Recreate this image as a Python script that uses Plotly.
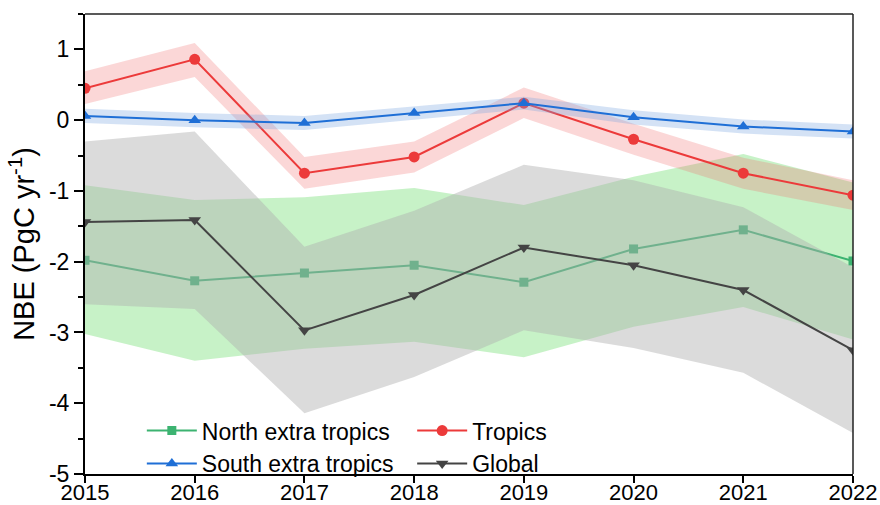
import plotly.graph_objects as go

years = [2015, 2016, 2017, 2018, 2019, 2020, 2021, 2022]

north = [-1.98, -2.27, -2.16, -2.05, -2.29, -1.82, -1.55, -1.99]
north_upper = [-0.92, -1.13, -1.09, -0.96, -1.20, -0.80, -0.48, -0.88]
north_lower = [-3.02, -3.40, -3.23, -3.13, -3.35, -2.92, -2.64, -3.10]

tropics = [0.45, 0.86, -0.75, -0.52, 0.24, -0.27, -0.75, -1.06]
tropics_upper = [0.69, 1.09, -0.52, -0.30, 0.46, -0.05, -0.53, -0.85]
tropics_lower = [0.23, 0.61, -0.97, -0.74, 0.03, -0.49, -0.97, -1.27]

south = [0.06, 0.00, -0.04, 0.10, 0.24, 0.04, -0.09, -0.16]
south_upper = [0.16, 0.10, 0.06, 0.20, 0.33, 0.14, 0.01, -0.06]
south_lower = [-0.04, -0.10, -0.14, 0.00, 0.15, -0.06, -0.19, -0.26]

glob = [-1.44, -1.41, -2.97, -2.47, -1.80, -2.05, -2.40, -3.25]
glob_upper = [-0.30, -0.16, -1.79, -1.28, -0.63, -0.85, -1.23, -2.08]
glob_lower = [-2.60, -2.67, -4.14, -3.63, -2.97, -3.22, -3.57, -4.42]

ytick_vals = [-5, -4, -3, -2, -1, 0, 1]
ytick_text = ["-5", "-4", "-3", "-2", "-1", "0", "1"]
xtick_text = [str(y) for y in years]

FONT = "Liberation Sans, Arial, sans-serif"

fig = go.Figure()


def band(upper, lower, color):
    fig.add_trace(go.Scatter(
        x=years + years[::-1], y=upper + lower[::-1],
        fill="toself", fillcolor=color, mode="lines",
        line=dict(width=0), hoverinfo="skip", showlegend=False))


def series(vals, name, color, symbol, size, legend, rank):
    fig.add_trace(go.Scatter(
        x=years, y=vals, name=name, mode="lines+markers",
        line=dict(color=color, width=2),
        marker=dict(symbol=symbol, size=size, color=color),
        legend=legend, legendrank=rank))


band(north_upper, north_lower, "rgba(144,230,144,0.5)")
series(north, "North extra tropics", "#3cb371", "square", 9, "legend", 1)
band(glob_upper, glob_lower, "rgba(175,175,175,0.45)")
series(glob, "Global", "#444444", "triangle-down", 11, "legend2", 2)
band(tropics_upper, tropics_lower, "rgba(240,110,110,0.28)")
series(tropics, "Tropics", "#ec3a3a", "circle", 11, "legend2", 1)
band(south_upper, south_lower, "rgba(120,165,225,0.32)")
series(south, "South extra tropics", "#1f6fd6", "triangle-up", 11, "legend", 2)

fig.update_layout(
    width=880, height=505,
    margin=dict(l=85, r=27, t=14, b=31),
    plot_bgcolor="white", paper_bgcolor="white",
    font=dict(family=FONT, size=23, color="black"),
    xaxis=dict(range=[2015, 2022], tickvals=years, ticktext=xtick_text,
               ticks="outside", ticklen=7, tickwidth=1.5, tickcolor="black",
               showline=True, linecolor="black", linewidth=2,
               showgrid=False, zeroline=False, automargin=False,
               ticklabelstandoff=-9,
               tickfont=dict(size=22)),
    yaxis=dict(range=[-5, 1.5], tickvals=ytick_vals, ticktext=ytick_text,
               ticks="outside", ticklen=9, tickwidth=1.5, tickcolor="black",
               minor=dict(dtick=0.5, ticks="outside", ticklen=5, tickwidth=1.5,
                          tickcolor="black", showgrid=False),
               showline=True, linecolor="black", linewidth=2,
               showgrid=False, zeroline=False, automargin=False,
               tickfont=dict(size=23),
               title=dict(text="NBE (PgC yr<sup>-1</sup>)", font=dict(size=29), standoff=6)),
    legend=dict(x=0.074, y=0.141, xanchor="left", yanchor="top", itemwidth=50,
                bgcolor="rgba(0,0,0,0)", font=dict(size=23), tracegroupgap=0),
    legend2=dict(x=0.426, y=0.141, xanchor="left", yanchor="top", itemwidth=50,
                 bgcolor="rgba(0,0,0,0)", font=dict(size=23), tracegroupgap=0),
    shapes=[
        dict(type="line", xref="paper", yref="paper", x0=0, x1=1, y0=1, y1=1,
             line=dict(color="#222", width=1.5)),
        dict(type="line", xref="paper", yref="paper", x0=1, x1=1, y0=0, y1=1,
             line=dict(color="#222", width=1.5)),
    ],
)

fig.write_html("out.html", config={"displayModeBar": False},
               post_script="document.body.style.margin='0';document.body.style.overflow='hidden';")
